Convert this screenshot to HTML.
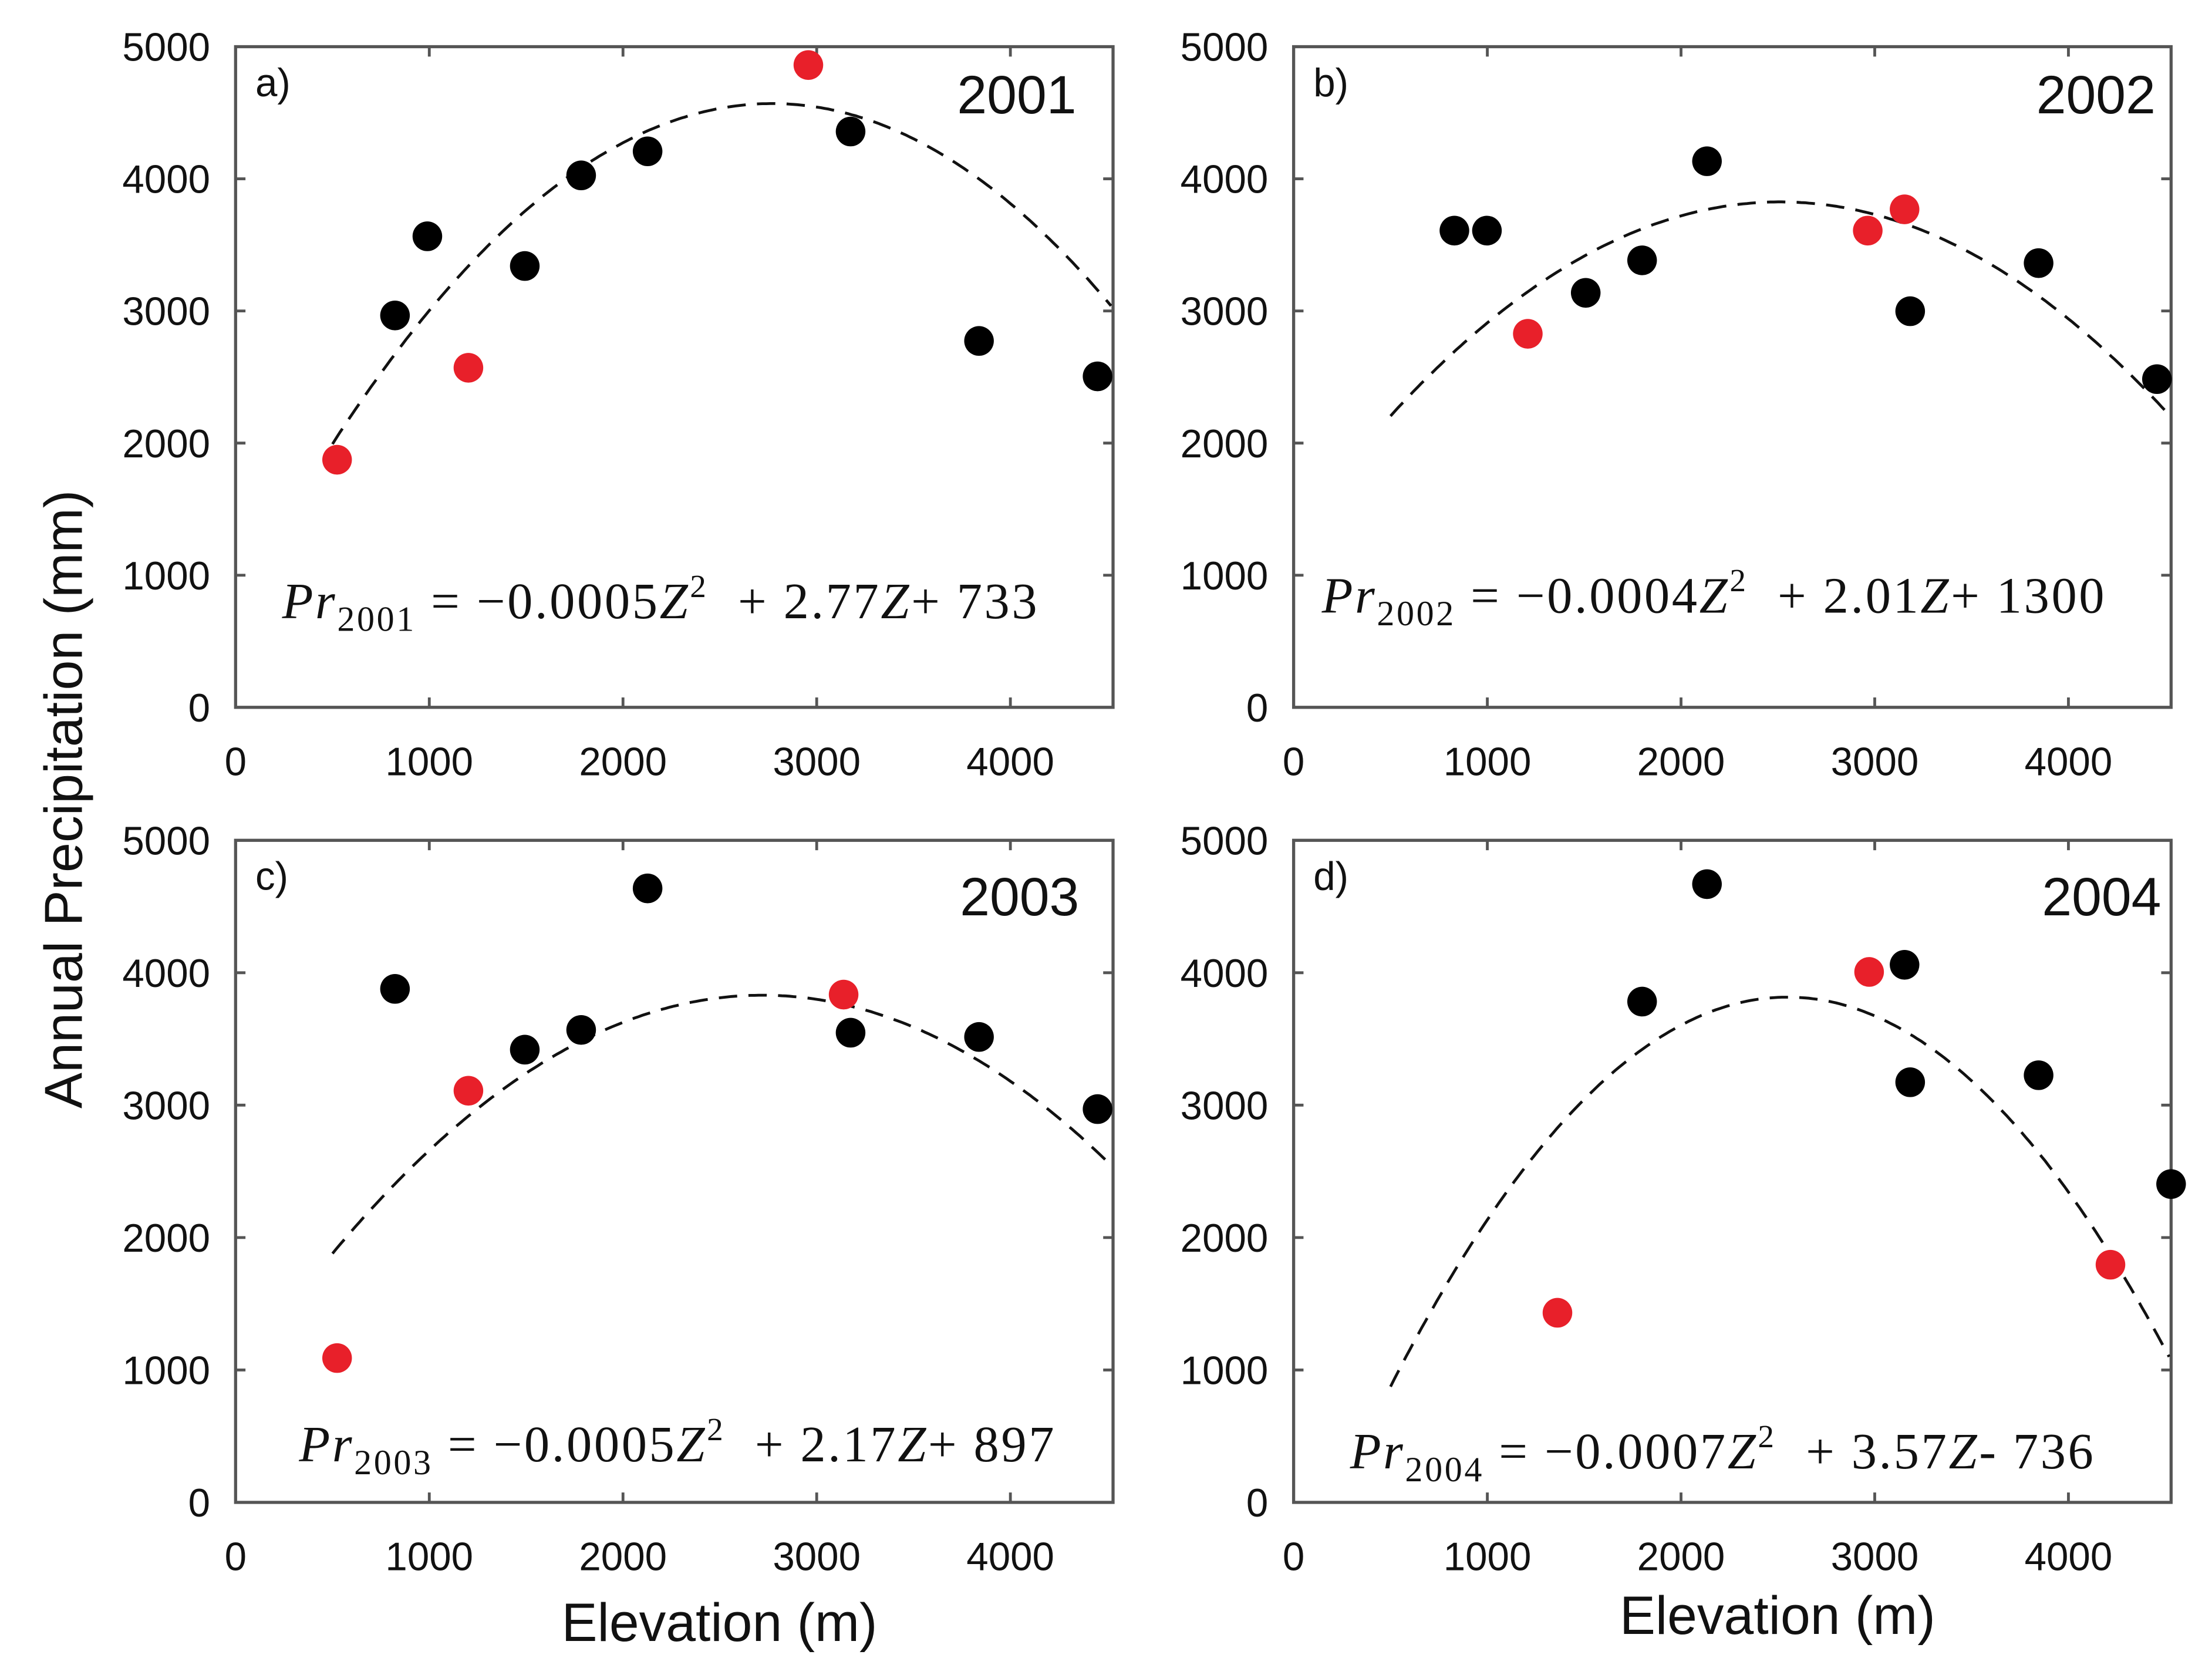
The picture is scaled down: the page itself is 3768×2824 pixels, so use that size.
<!DOCTYPE html>
<html><head><meta charset="utf-8">
<style>
html,body{margin:0;padding:0;background:#fff;}
svg{display:block;}
.tick{font-family:"Liberation Sans",sans-serif;font-size:28px;fill:#111;}
.title{font-family:"Liberation Sans",sans-serif;font-size:38px;fill:#111;}
.eq{font-family:"Liberation Serif",serif;font-size:36px;fill:#111;letter-spacing:1.5px;}
</style></head>
<body>
<svg id="fig" width="3768" height="2824" viewBox="0 0 1568 1172" preserveAspectRatio="none" xmlns="http://www.w3.org/2000/svg">
<text class="title" transform="translate(58,565) rotate(-90)" text-anchor="middle">Annual  Precipitation (mm)</text>
<text class="title" x="510" y="1160" text-anchor="middle">Elevation (m)</text>
<text class="title" x="1260" y="1155" text-anchor="middle">Elevation (m)</text>
</svg>
<script>
const xTicks = [0, 1000, 2000, 3000, 4000];
const yTicks = [0, 1000, 2000, 3000, 4000, 5000];
const years = ["2001", "2002", "2003", "2004"];
const letters = ["a)", "b)", "c)", "d)"];
const elevA = [524, 823, 990, 1202, 1493, 1784, 2127, 2957, 3175, 3838, 4450];
const precA = [1874, 2966, 3565, 2570, 3340, 4026, 4208, 4861, 4358, 2773, 2505];
const redA  = [1, 0, 0, 1, 0, 0, 0, 1, 0, 0, 0];
const elevB = [830, 998, 1209, 1508, 1799, 2134, 2964, 3154, 3183, 3846, 4457];
const precB = [3608, 3608, 2827, 3137, 3383, 4133, 3608, 3769, 2998, 3362, 2484];
const redB  = [0, 0, 1, 0, 0, 0, 1, 1, 0, 0, 0];
const elevC = [524, 823, 1202, 1493, 1784, 2127, 3139, 3175, 3838, 4450];
const precC = [1090, 3878, 3109, 3419, 3568, 4637, 3835, 3547, 3515, 2970];
const redC  = [1, 0, 1, 0, 0, 0, 1, 0, 0, 0];
const elevD = [1362, 1799, 2134, 2971, 3154, 3183, 3846, 4217, 4530];
const precD = [1432, 3782, 4669, 4006, 4060, 3173, 3226, 1795, 2404];
const redD  = [1, 0, 0, 1, 0, 0, 0, 1, 0];
const fitA = [-0.0005, 2.77, 733];
const fitB = [-0.0004, 2.01, 1300];
const fitC = [-0.000396, 2.154, 901];
const fitD = [-0.0007, 3.57, -736];
const eqCoef = [["0.0005","2.77","+ 733"],["0.0004","2.01","+ 1300"],["0.0005","2.17","+ 897"],["0.0007","3.57","- 736"]];
const fitRange = [500, 4530];
const X_MAX = 4530, Y_MAX = 5000;

const NS = "http://www.w3.org/2000/svg";
const svg = document.getElementById("fig");
function mk(tag, attrs, parent){const e=document.createElementNS(NS,tag);for(const k in attrs)e.setAttribute(k,attrs[k]);(parent||svg).appendChild(e);return e;}

const panels = [
 {L:167,R:789,T:33,B:500,e:elevA,p:precA,r:redA,f:fitA,eqx:200,eqy:437,yl:80,yx:763},
 {L:917,R:1539,T:33,B:500,e:elevB,p:precB,r:redB,f:fitB,eqx:937,eqy:433,yl:80,yx:1528},
 {L:167,R:789,T:594,B:1062,e:elevC,p:precC,r:redC,f:fitC,eqx:212,eqy:1033,yl:647,yx:765},
 {L:917,R:1539,T:594,B:1062,e:elevD,p:precD,r:redD,f:fitD,eqx:957,eqy:1038,yl:647,yx:1532}
];

panels.forEach((P,i)=>{
  const g = mk("g",{});
  
  
  const sx = v => P.L + (P.R-P.L)*v/X_MAX;
  const sy = v => P.B - (P.B-P.T)*v/Y_MAX;
  const fr = mk("rect",{x:P.L,y:P.T,width:P.R-P.L,height:P.B-P.T,fill:"none",stroke:"#555","stroke-width":2.2},g);
  
  
  xTicks.forEach(t=>{
    const x=sx(t);
    if(t>0){mk("line",{x1:x,x2:x,y1:P.B,y2:P.B-7,stroke:"#555","stroke-width":2},g);
            mk("line",{x1:x,x2:x,y1:P.T,y2:P.T+7,stroke:"#555","stroke-width":2},g);}
    const tx = mk("text",{class:"tick",x:x,y:P.B+48,"text-anchor":"middle"},g);
    tx.textContent=t;
    
    
  });
  yTicks.forEach(t=>{
    const y=sy(t);
    if(t>0&&t<5000){mk("line",{x1:P.L,x2:P.L+7,y1:y,y2:y,stroke:"#555","stroke-width":2},g);
            mk("line",{x1:P.R,x2:P.R-7,y1:y,y2:y,stroke:"#555","stroke-width":2},g);}
    const ty = mk("text",{class:"tick",x:P.L-18,y:y+10,"text-anchor":"end"},g);
    ty.textContent=t;
    
    
  });
  let d="";
  for(let z=fitRange[0]; z<=fitRange[1]; z+=20){
    const v=P.f[0]*z*z+P.f[1]*z+P.f[2];
    d+=(d?"L":"M")+sx(z).toFixed(1)+","+sy(v).toFixed(1);
  }
  const cv = mk("path",{d:d,fill:"none",stroke:"#111","stroke-width":2,"stroke-dasharray":"13,8"},g);
  
  
  P.e.forEach((z,k)=>{
    const c = mk("circle",{cx:sx(z),cy:sy(P.p[k]),r:10.5,fill:P.r[k]?"#e8202a":"#000"},g);
    
    
  });
  const lt = mk("text",{class:"tick",x:P.L+14,y:P.T+35,"font-size":"23"},g);
  lt.textContent=letters[i];
  
  
  const yr = mk("text",{class:"title",x:P.yx,y:P.yl,"text-anchor":"end","font-size":"40"},g);
  yr.textContent=years[i];
  
  
  const eq = mk("text",{class:"eq",x:P.eqx,y:P.eqy},g);
  
  
  const c=eqCoef[i];
  eq.innerHTML = '<tspan font-style="italic">Pr</tspan><tspan font-size="25" dy="9">'+years[i]+'</tspan><tspan dy="-9"> = −'+c[0]+'</tspan><tspan font-style="italic">Z</tspan><tspan font-size="23" dy="-15">2</tspan><tspan dy="15" xml:space="preserve">  + '+c[1]+'</tspan><tspan font-style="italic">Z</tspan><tspan>'+c[2]+'</tspan>';
});
</script>
</body></html>
